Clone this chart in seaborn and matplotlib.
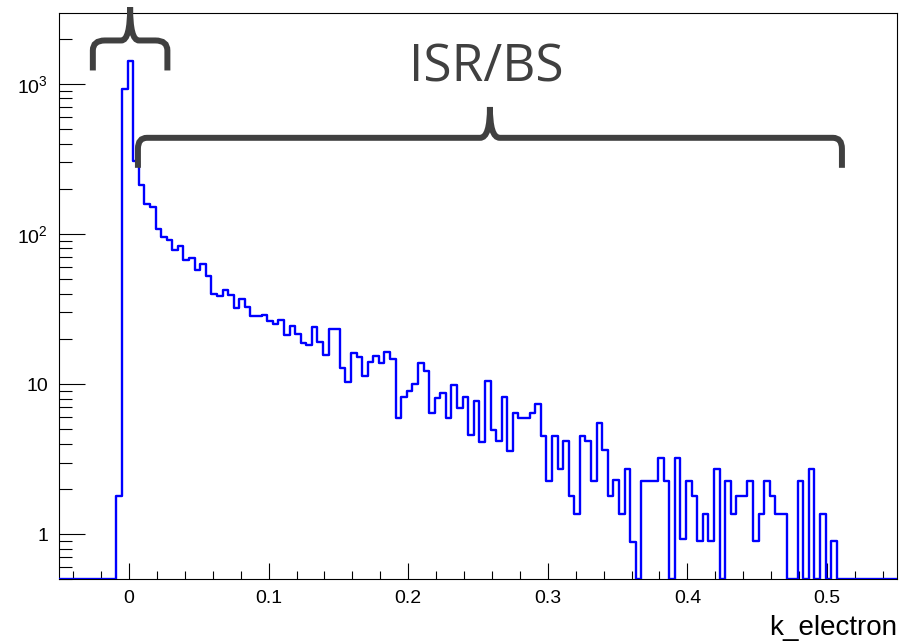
import numpy as np
import pandas as pd
import matplotlib
matplotlib.use("Agg")
import matplotlib.pyplot as plt
import seaborn as sns
from matplotlib.path import Path
from matplotlib.patches import PathPatch
from matplotlib.transforms import blended_transform_factory
from matplotlib.ticker import FixedLocator, FixedFormatter, LogLocator, NullFormatter

# Histogram of the electron energy fraction k (bin width 0.004, first edge -0.053)
bin_width = 0.004
first_edge = -0.053
counts = [
    0, 0, 0, 0, 0, 0, 0, 0, 0, 0, 0,
    1.79, 922, 1429, 304,
    213, 159, 151, 108, 95, 91.6, 78.6, 82.7, 66.7, 69.2,
    57.9, 63.1, 52.8, 39.9, 38.4, 42.0, 38.9, 32.2, 36.9, 32.5,
    28.3, 28.3, 29.0, 26.2, 25.3, 26.9, 21.1, 24.5, 21.4, 18.8,
    18.1, 24.1, 19.0, 15.5, 23.3, 23.3, 12.8, 10.3, 16.0, 15.2,
    11.3, 14.0, 15.3, 13.9, 16.3, 14.7, 5.97, 8.23, 8.97, 9.94,
    13.7, 12.2, 6.37, 8.11, 8.66, 5.97, 9.79, 6.96, 8.23, 4.55,
    7.69, 4.11, 10.5, 4.93, 4.17, 8.23, 3.58, 6.44, 5.97, 5.97,
    6.44, 7.39, 4.50, 2.26, 4.50, 2.73, 4.17, 1.80, 1.36, 4.50,
    4.17, 2.26, 5.47, 3.63, 1.80, 2.29, 1.36, 2.73, 0.887, 0,
    2.26, 2.26, 2.26, 3.20, 2.26, 0, 3.20, 0.925, 2.26, 1.80,
    0.90, 1.36, 0.90, 2.70, 0, 2.26, 1.36, 1.80, 1.80, 2.26,
    0.90, 1.36, 2.26, 1.80, 1.36, 1.36, 0, 0, 2.26, 0,
    2.70, 0, 1.36, 0, 0.90,
    0, 0, 0, 0, 0, 0, 0, 0, 0, 0, 0,
]
x_ticks = [0, 0.1, 0.2, 0.3, 0.4, 0.5]
x_tick_labels = ["0", "0.1", "0.2", "0.3", "0.4", "0.5"]
y_ticks = [1, 10, 100, 1000]
y_tick_labels = ["1", "10", r"$\mathregular{10^{2}}$", r"$\mathregular{10^{3}}$"]
x_title = "k_electron"
region_label = "ISR/BS"

x_range = (-0.05, 0.55)
y_range = (0.5, 2950)

counts = np.asarray(counts, dtype=float)
edges = first_edge + bin_width * np.arange(len(counts) + 1)
centers = edges[:-1] + bin_width / 2
# empty bins sit on the lower frame, as in ROOT
shown = np.where(counts > 0, counts, y_range[0])
hist_df = pd.DataFrame({"k_electron": centers, "entries": shown})

sns.set_theme(style="white")
plt.rcParams["font.family"] = ["Liberation Sans", "DejaVu Sans"]
plt.rcParams["mathtext.fontset"] = "custom"
plt.rcParams["mathtext.rm"] = "Liberation Sans"

W, H = 910, 644
ax_left, ax_right, ax_top, ax_bottom = 59.2, 896.8, 13.3, 579.3
fig = plt.figure(figsize=(W / 100, H / 100), dpi=100)
fig.patch.set_facecolor("white")
ax = fig.add_axes([ax_left / W, 1 - ax_bottom / H,
                   (ax_right - ax_left) / W, (ax_bottom - ax_top) / H])

sns.histplot(data=hist_df, x="k_electron", weights="entries", bins=edges.tolist(),
             element="step", fill=False, color="#0000ff", linewidth=1.7,
             ax=ax, zorder=3)

ax.set_yscale("log")
ax.set_xlim(*x_range)
ax.set_ylim(*y_range)
ax.set_xlabel("")
ax.set_ylabel("")

for side in ["left", "right", "top", "bottom"]:
    ax.spines[side].set_visible(True)
    ax.spines[side].set_color("black")
    ax.spines[side].set_linewidth(0.8)

ax.xaxis.set_major_locator(FixedLocator(x_ticks))
ax.xaxis.set_major_formatter(FixedFormatter(x_tick_labels))
ax.xaxis.set_minor_locator(FixedLocator(np.arange(-0.04, 0.55, 0.02)))
ax.yaxis.set_major_locator(FixedLocator(y_ticks))
ax.yaxis.set_major_formatter(FixedFormatter(y_tick_labels))
ax.yaxis.set_minor_locator(LogLocator(base=10, subs=np.arange(2, 10), numticks=20))
ax.yaxis.set_minor_formatter(NullFormatter())

ax.tick_params(which="both", direction="in", color="black", width=0.8,
               bottom=True, left=True, top=False, right=False,
               labelsize=14, labelcolor="black")
ax.tick_params(axis="x", which="major", length=11.5, pad=8)
ax.tick_params(axis="x", which="minor", length=5.5)
ax.tick_params(axis="y", which="major", length=19, pad=8)
ax.tick_params(axis="y", which="minor", length=9)

ax.text(1.0, -0.086, x_title, transform=ax.transAxes, ha="right", va="center",
        fontsize=20, color="black")

# curly braces marking the peak and the radiative tail
blend = blended_transform_factory(ax.transData, ax.transAxes)
px_x = (x_range[1] - x_range[0]) / (ax_right - ax_left)
px_y = 1.0 / (ax_bottom - ax_top)
brace_color = "#404040"


def brace(x_left, x_right, y_tip, y_bar, y_peak, corner=(11, 10), cusp=9):
    cx, cy = corner[0] * px_x, corner[1] * px_y
    kx = cusp * px_x
    xm = 0.5 * (x_left + x_right)
    rise = y_peak - y_bar
    verts = [
        (x_left, y_tip), (x_left, y_bar - cy),
        (x_left, y_bar), (x_left + cx, y_bar),
        (xm - kx, y_bar),
        (xm - 0.3 * kx, y_bar), (xm, y_bar + 0.35 * rise), (xm, y_peak),
        (xm, y_bar + 0.35 * rise), (xm + 0.3 * kx, y_bar), (xm + kx, y_bar),
        (x_right - cx, y_bar),
        (x_right, y_bar), (x_right, y_bar - cy),
        (x_right, y_tip),
    ]
    codes = [Path.MOVETO, Path.LINETO,
             Path.CURVE3, Path.CURVE3,
             Path.LINETO,
             Path.CURVE4, Path.CURVE4, Path.CURVE4,
             Path.CURVE4, Path.CURVE4, Path.CURVE4,
             Path.LINETO,
             Path.CURVE3, Path.CURVE3,
             Path.LINETO]
    patch = PathPatch(Path(verts, codes), transform=blend, fill=False,
                      edgecolor=brace_color, linewidth=4.3, capstyle="butt",
                      joinstyle="miter", clip_on=False, zorder=5)
    ax.add_patch(patch)


brace(-0.0259, 0.0275, 0.899, 0.952, 1.011, corner=(12, 10), cusp=9)
brace(0.0064, 0.5107, 0.727, 0.780, 0.8345, corner=(9, 11), cusp=10)

ax.text(0.256, 0.903, region_label, transform=blend, ha="center", va="center",
        fontsize=37, color=brace_color, family=["Open Sans", "DejaVu Sans"])

fig.savefig("out.png", dpi=100, facecolor="white")
